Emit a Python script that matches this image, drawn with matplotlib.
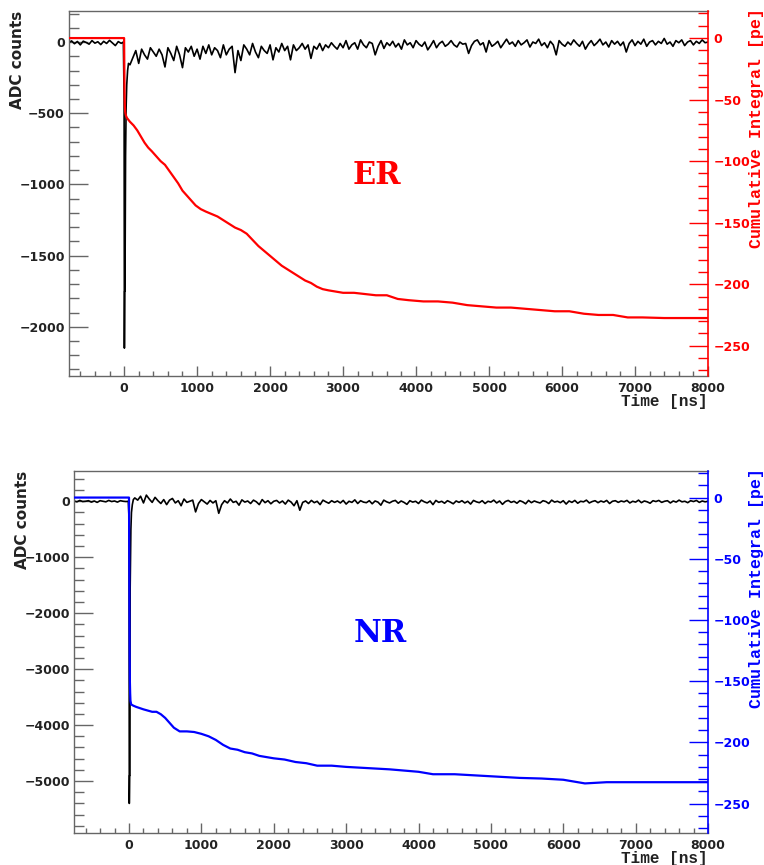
import numpy as np
import matplotlib.pyplot as plt
from matplotlib.ticker import MultipleLocator

W, H = 764, 865

# ---- ER event (top) ----
er_pre_vals = [-5, 8, -12, 4, -20, 6, -3, -15, 10, -8, 2, -18, 5, -10, 12, -6, -25, 3, -9]
er_pulse_t = [-10, 0, 4, 8, 12, 16, 20, 28, 36, 48, 60]
er_pulse_v = [0, -400, -2150, -1750, -1750, -1200, -800, -450, -300, -200, -150]
er_tail_vals = [
    -160, -110, -60, -150, -50, -90, -120, -40, -70, -100,
    -50, -90, -175, -40, -80, -130, -30, -90, -180, -40,
    -70, -30, -100, -50, -120, -30, -80, -20, -90, -40,
    -60, -110, -20, -90, -50, -30, -215, -60, -130, -20,
    -50, -90, -10, -70, -110, -30, -60, -80, -20, -125,
    -40, -70, -10, -60, -30, -125, -20, -60, -40, -10,
    -50, -20, -115, -30, -50, -10, -60, -20, -40, -5,
    -30, -50, -10, -40, 10, -50, -20, -5, -50, 15,
    -20, -40, 0, -10, -90, -30, 10, -45, -5, -25,
    5, -35, -10, -50, 15, -20, -5, -40, 10, -15,
    -30, 0, -55, -25, 10, -40, -10, 5, -30, -15,
    10, -20, -35, 0, -15, -10, -80, -25, 5, 15,
    -20, -5, -70, 10, -30, -15, 5, -40, -10, 20,
    -15, 0, -30, 10, -20, -5, 15, -35, 0, -10,
    20, -25, -5, -40, 5, -20, -90, 10, -15, -30,
    0, -20, 15, -10, -30, 5, -50, -15, 10, -25,
    -5, 20, -20, 0, -35, 10, -15, 5, -25, 0,
    -70, -10, 15, -25, 5, -15, 20, -30, 0, 10,
    -20, 5, -10, 25, -15, 0, -30, 10, -5, 15,
    -25, 0, 10, -20, 5, -10, 15, -5,
]
er_cum_t = [-755, 0, 3, 6, 10, 15, 25, 40, 80, 130, 180, 230, 280, 330, 380, 440, 500, 560,
            620, 680, 740, 800, 860, 920, 980, 1050, 1120, 1200, 1280, 1360, 1440, 1520, 1600,
            1680, 1760, 1840, 1920, 2000, 2080, 2160, 2240, 2320, 2400, 2480, 2560, 2640, 2720,
            2800, 2900, 3000, 3150, 3300, 3450, 3600, 3750, 3900, 4100, 4300, 4500, 4700, 4900,
            5100, 5300, 5500, 5700, 5900, 6100, 6300, 6500, 6700, 6900, 7100, 7400, 7700, 8000]
er_cum_pe = [0, 0, -25, -45, -55, -60, -63, -65, -68, -71, -75, -80, -85, -89, -92, -96, -100,
             -103, -108, -113, -118, -124, -128, -132, -136, -139, -141, -143, -145, -148, -151,
             -154, -156, -159, -164, -169, -173, -177, -181, -185, -188, -191, -194, -197, -199,
             -202, -204, -205, -206, -207, -207, -208, -209, -209, -212, -213, -214, -214, -215,
             -217, -218, -219, -219, -220, -221, -222, -222, -224, -225, -225, -227, -227,
             -227.5, -227.5, -227.5]

# ---- NR event (bottom) ----
nr_pre_vals = [5, -10, 15, -5, 0, 10, -15, 5, -20, 10, 0, -10, 15, -5, 5, -15, 10, 0, -5]
nr_pulse_t = [-10, 0, 4, 8, 12, 16, 20, 26, 34, 46, 60]
nr_pulse_v = [0, -300, -5400, -4900, -4900, -1550, -1100, -500, -200, -60, 30]
nr_tail_vals = [
    60, 20, 90, -30, 110, 40, -20, 70, 10, -40,
    30, -60, 20, 50, -30, 10, -80, 40, -20, 0,
    20, -190, -40, 30, -10, -50, 15, -30, 10, -215,
    -60, 10, -30, 40, -20, 0, -70, 25, -15, 5,
    -40, 20, -10, -60, 30, -25, 10, -45, 0, 15,
    -30, 5, -50, 20, -15, -80, 10, -160, -20, 5,
    -40, 15, -25, 0, -60, 20, -10, -35, 10, -20,
    5, -30, 15, -50, 0, -20, 25, -40, 10, -15,
    -25, 10, -45, 5, -15, -70, 20, -10, -30, 0,
    15, -35, 5, -20, -55, 10, -15, 0, -40, 20,
    -10, -30, 5, -60, 15, -20, 0, -35, 10, -15,
    -45, 5, -20, 10, -30, 0, -50, 15, -10, -25,
    10, -40, 0, -15, 20, -30, 5, -55, -5, 15,
    -20, 0, -35, 10, -10, -45, 15, -25, 5, -15,
    -30, 10, -5, -40, 20, -15, 0, -25, 10, -50,
    5, -20, 15, -35, 0, -10, 20, -30, -5, 10,
    -25, 5, -15, 15, -40, 0, 10, -20, 5, -10,
    15, -30, 0, -15, 20, -25, 5, -10, -35, 10,
    -5, 15, -20, 0, 10, -30, 5, -15, 20, -10,
    0, -25, 10, -5, 15, -20, 5, -10,
]
nr_cum_t = [-760, 0, 3, 6, 9, 12, 16, 20, 30, 60, 100, 150, 200, 260, 320, 380, 440, 500, 560,
            620, 700, 800, 900, 1000, 1100, 1200, 1300, 1400, 1500, 1600, 1700, 1800, 1900,
            2000, 2150, 2300, 2450, 2600, 2800, 3000, 3300, 3600, 3800, 4000, 4200, 4500, 4800,
            5100, 5400, 5700, 6000, 6300, 6600, 7000, 7500, 8000]
nr_cum_pe = [0, 0, -40, -90, -130, -150, -160, -166, -169, -170, -171, -172, -173, -174, -175,
             -175, -177, -180, -184, -188, -191, -191, -191.5, -193, -195, -198, -202, -205,
             -206, -208, -209, -211, -212, -213, -214, -216, -217, -219, -219, -220, -221, -222,
             -223, -224, -226, -226, -227, -228, -229, -229.5, -230.5, -233.5, -232.5, -232.5,
             -232.5, -232.5]


def waveform(pre, pulse_t, pulse_v, tail):
    t = np.concatenate([np.arange(-760, -760 + 40 * len(pre), 40), pulse_t,
                        np.arange(80, 80 + 40 * len(tail), 40), [8000]])
    v = np.concatenate([pre, pulse_v, tail, [0]])
    return t, v


gray = '#666666'
sans = 'DejaVu Sans'
mono = 'Liberation Mono'

fig = plt.figure(figsize=(W / 100, H / 100), dpi=100)


def panel(box, xlim, ylim, ylim2, ymaj, ymin, t, v, ct, cpe, col, tag, tagpos, ylab_x, rlab_x):
    l, tp, r, b = box
    ax = fig.add_axes([l / W, 1 - b / H, (r - l) / W, (b - tp) / H])
    ax.plot(t, v, color='black', lw=1.2)
    ax.set_xlim(*xlim)
    ax.set_ylim(*ylim)
    ax.xaxis.set_major_locator(MultipleLocator(1000))
    ax.xaxis.set_minor_locator(MultipleLocator(200))
    ax.yaxis.set_major_locator(MultipleLocator(ymaj))
    ax.yaxis.set_minor_locator(MultipleLocator(ymin))
    ax.tick_params(axis='y', which='major', direction='in', length=13.5, width=1, color=gray,
                   pad=3, labelsize=9, right=False)
    ax.tick_params(axis='y', which='minor', direction='in', length=7, width=1, color=gray, right=False)
    ax.tick_params(axis='x', which='major', direction='in', length=7, width=1, color=gray,
                   pad=4, labelsize=9, top=False)
    ax.tick_params(axis='x', which='minor', direction='in', length=3.6, width=1, color=gray, top=False)
    for lab in ax.get_xticklabels() + ax.get_yticklabels():
        lab.set_fontfamily(sans)
        lab.set_fontweight('bold')
        lab.set_color('#222222')
    for s in ['left', 'bottom', 'top']:
        ax.spines[s].set_color(gray)
        ax.spines[s].set_linewidth(1)
    ax.spines['right'].set_visible(False)

    ax2 = ax.twinx()
    ax2.plot(ct, cpe, color=col, lw=1.6)
    ax2.set_ylim(*ylim2)
    ax2.yaxis.set_major_locator(MultipleLocator(50))
    ax2.yaxis.set_minor_locator(MultipleLocator(10))
    ax2.tick_params(axis='y', which='major', direction='in', length=13.5, width=1, color=col,
                    pad=4, labelsize=9, labelcolor=col)
    ax2.tick_params(axis='y', which='minor', direction='in', length=7, width=1, color=col)
    for lab in ax2.get_yticklabels():
        lab.set_fontfamily(sans)
        lab.set_fontweight('bold')
    for s in ['left', 'bottom', 'top']:
        ax2.spines[s].set_visible(False)
    ax2.spines['right'].set_color(col)
    ax2.spines['right'].set_linewidth(1.2)

    fig.text(ylab_x / W, 1 - tp / H, 'ADC counts', rotation=90, ha='center', va='top',
             fontsize=11, fontweight='bold', family=sans, color='#222222')
    fig.text(rlab_x / W, 1 - (tp - 3) / H, 'Cumulative Integral [pe]', rotation=90, ha='center',
             va='top', fontsize=12, fontweight='bold', family=mono, color=col)
    fig.text(r / W, 1 - (b + 25) / H, 'Time [ns]', ha='right', va='center',
             fontsize=11.5, fontweight='bold', family=mono, color='#222222')
    fig.text(tagpos[0] / W, 1 - tagpos[1] / H, tag, ha='center', va='center',
             fontsize=22, fontweight='bold', family='DejaVu Serif', color=col)
    return ax, ax2


t1, v1 = waveform(er_pre_vals, er_pulse_t, er_pulse_v, er_tail_vals)
panel((69, 11, 708, 376), (-755, 8000), (-2346, 218), (-274.6, 22), 500, 100,
      t1, v1, er_cum_t, er_cum_pe, 'red', 'ER', (377, 176), 18, 756)

t2, v2 = waveform(nr_pre_vals, nr_pulse_t, nr_pulse_v, nr_tail_vals)
panel((74, 471, 708, 833), (-760, 8000), (-5929, 541), (-274, 21.7), 1000, 200,
      t2, v2, nr_cum_t, nr_cum_pe, 'blue', 'NR', (380, 633), 23, 757)

plt.savefig('out.png', dpi=100)
